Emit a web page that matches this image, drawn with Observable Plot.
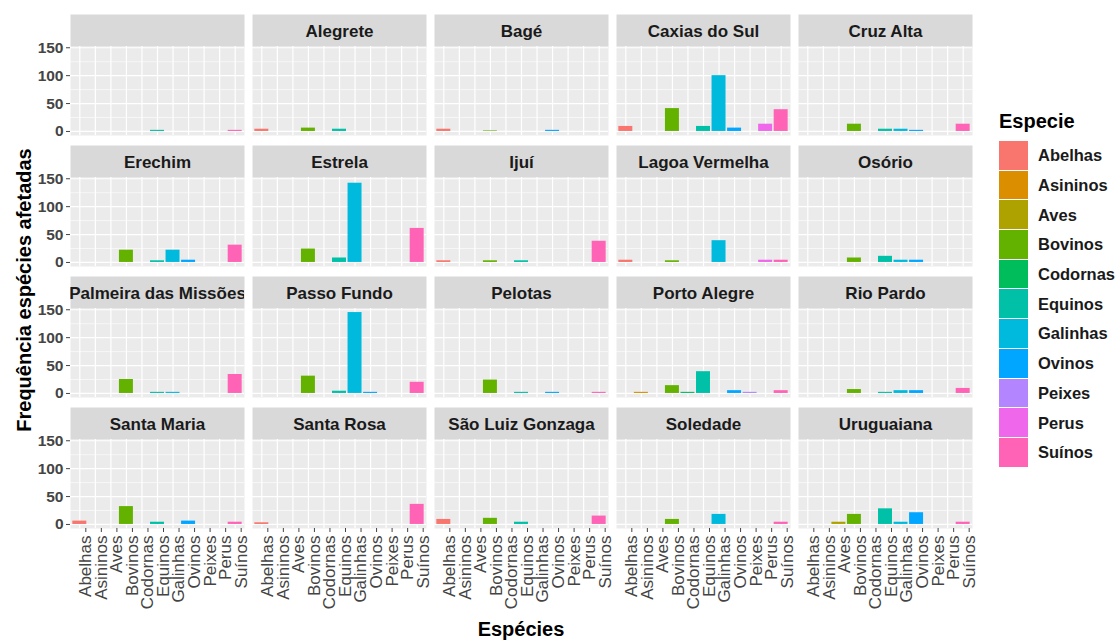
<!DOCTYPE html>
<html><head><meta charset="utf-8">
<script src="https://cdn.jsdelivr.net/npm/d3@7"></script>
<script src="https://cdn.jsdelivr.net/npm/@observablehq/plot@0.6"></script>
<style>
body{margin:0;background:#fff;font-family:"Liberation Sans",Arial,sans-serif;}
#wrap{position:relative;width:1118px;height:641px;overflow:hidden;}
#wrap svg{position:absolute;left:0;top:0;}
.ytitle{position:absolute;left:24px;top:290px;transform:translate(-50%,-50%) rotate(-90deg);font-weight:bold;font-size:20px;color:#000;white-space:nowrap;}
.xtitle{position:absolute;left:521px;top:629px;transform:translate(-50%,-50%);font-weight:bold;font-size:20px;color:#000;white-space:nowrap;}
.legend{position:absolute;left:999px;top:110px;}
.legend .lt{font-weight:bold;font-size:20px;color:#000;margin-bottom:8px;}
.legend .row{display:flex;align-items:center;height:29.7px;}
.legend .sw{width:29px;height:28.7px;margin-bottom:1px;}
.legend .lb{font-weight:bold;font-size:16.5px;color:#1a1a1a;margin-left:10px;}
</style></head><body><div id="wrap"></div><script>
const species = ["Abelhas","Asininos","Aves","Bovinos","Codornas","Equinos","Galinhas","Ovinos","Peixes","Perus","Suínos"];
const colors = ["#F8766D","#DB8E00","#AEA200","#64B200","#00BD5C","#00C1A7","#00BADE","#00A6FF","#B385FF","#EF67EB","#FF63B6"];
const regions = ["", "Alegrete", "Bagé", "Caxias do Sul", "Cruz Alta",
  "Erechim", "Estrela", "Ijuí", "Lagoa Vermelha", "Osório",
  "Palmeira das Missões", "Passo Fundo", "Pelotas", "Porto Alegre", "Rio Pardo",
  "Santa Maria", "Santa Rosa", "São Luiz Gonzaga", "Soledade", "Uruguaiana"];
// values per species, in region order
const abelhas  = [0,4,4,9,0, 0,0,3,4,0, 0,0,0,0,0, 6,3,9,0,0];
const asininos = [0,0,0,0,0, 0,0,0,0,0, 0,0,0,2,0, 0,0,0,0,0];
const aves     = [0,0,0,0,0, 0,0,0,0,0, 0,0,0,0,0, 0,0,0,0,4];
const bovinos  = [0,6,1,41,13, 22,24,3,3,8, 25,31,24,14,7, 32,0,11,9,18];
const codornas = [0,0,0,0,0, 0,0,0,0,0, 0,0,0,2,0, 0,0,0,0,0];
const equinos  = [2,4,0,9,4, 3,8,3,0,11, 2,4,2,39,2, 4,0,4,0,28];
const galinhas = [0,0,0,100,4, 22,142,0,39,4, 2,145,0,0,5, 0,0,0,18,4];
const ovinos   = [0,0,2,6,2, 4,0,0,0,4, 0,2,2,5,5, 6,0,0,0,21];
const peixes   = [0,0,0,0,0, 0,0,0,0,0, 0,0,0,2,0, 0,0,0,0,0];
const perus    = [0,0,0,13,0, 0,0,0,4,0, 0,0,0,0,0, 0,0,0,0,0];
const suinos   = [2,0,0,39,13, 31,61,38,4,0, 34,20,2,5,9, 4,36,15,4,4];
const series = [abelhas,asininos,aves,bovinos,codornas,equinos,galinhas,ovinos,peixes,perus,suinos];
const yTicks = [0,50,100,150];
const yMinor = [25,75,125];

const ncol = 5;
const regionRows = regions.map((r,i)=>({region:r, col:i%ncol, row:Math.floor(i/ncol)}));
const rows = [];
species.forEach((s,j)=>series[j].forEach((v,i)=>{
  if (v>0) rows.push({species:s, value:v, region:regions[i], col:i%ncol, row:Math.floor(i/ncol)});
}));

const W=1118, H=641, mL=70, mR=146, mT=14, mB=113;
const stripPx=32, panelPx=89, cellPx=stripPx+panelPx;
const yLo=-7.25, yHi=152.25;
const yTop = yLo + (yHi-yLo)*cellPx/panelPx;
const areaH = H-mT-mB, areaW = W-mL-mR;
const gapY = (areaH - 4*cellPx)/3;
const cellW = (areaW - 4*8)/5;

const chart = Plot.plot({
  width: W, height: H,
  marginLeft: mL, marginRight: mR, marginTop: mT, marginBottom: mB,
  style: {fontFamily: '"Liberation Sans", Arial, sans-serif', background: "transparent"},
  fx: {domain: d3.range(5), paddingInner: 8/(cellW+8), paddingOuter: 0, axis: null, round: false},
  fy: {domain: d3.range(4), paddingInner: gapY/(cellPx+gapY), paddingOuter: 0, axis: null, round: false},
  x: {type: "band", domain: species, paddingInner: 0.1, paddingOuter: 0.15, round: false},
  y: {domain: [yLo, yTop]},
  color: {domain: species, range: colors},
  marks: [
    Plot.frame({fill: "#EBEBEB", insetTop: stripPx}),
    Plot.frame({fill: "#D9D9D9", insetBottom: panelPx}),
    Plot.ruleY(yMinor, {y: d=>d, stroke: "white", strokeWidth: 0.6}),
    Plot.ruleY(yTicks, {y: d=>d, stroke: "white", strokeWidth: 1.2}),
    Plot.ruleX(species, {x: d=>d, y1: yLo, y2: yHi, stroke: "white", strokeWidth: 1.2}),
    Plot.barY(rows, {fx: "col", fy: "row", x: "species", y: "value", fill: "species"}),
    Plot.text(regionRows, {fx: "col", fy: "row", text: "region", frameAnchor: "top", lineAnchor: "middle", dy: 17,
      fontSize: 17, fontWeight: "bold", fill: "#1A1A1A", clip: true}),
    Plot.axisY({ticks: yTicks, tickSize: 4, tickPadding: 3, fontSize: 15.5, fontWeight: "bold",
      color: "#444", label: null}),
    Plot.axisX({tickRotate: -90, tickSize: 4, tickPadding: 3, fontSize: 17, color: "#444",
      label: null, dx: 6})
  ]
});
const wrap = document.getElementById("wrap");
wrap.appendChild(chart);

const yt = document.createElement("div"); yt.className="ytitle"; yt.textContent="Frequência espécies afetadas"; wrap.appendChild(yt);
const xt = document.createElement("div"); xt.className="xtitle"; xt.textContent="Espécies"; wrap.appendChild(xt);
const lg = document.createElement("div"); lg.className="legend";
const lt = document.createElement("div"); lt.className="lt"; lt.textContent="Especie"; lg.appendChild(lt);
species.forEach((s,i)=>{
  const r=document.createElement("div"); r.className="row";
  const sw=document.createElement("div"); sw.className="sw"; sw.style.background=colors[i];
  const lb=document.createElement("div"); lb.className="lb"; lb.textContent=s;
  r.appendChild(sw); r.appendChild(lb); lg.appendChild(r);
});
wrap.appendChild(lg);
</script></body></html>
